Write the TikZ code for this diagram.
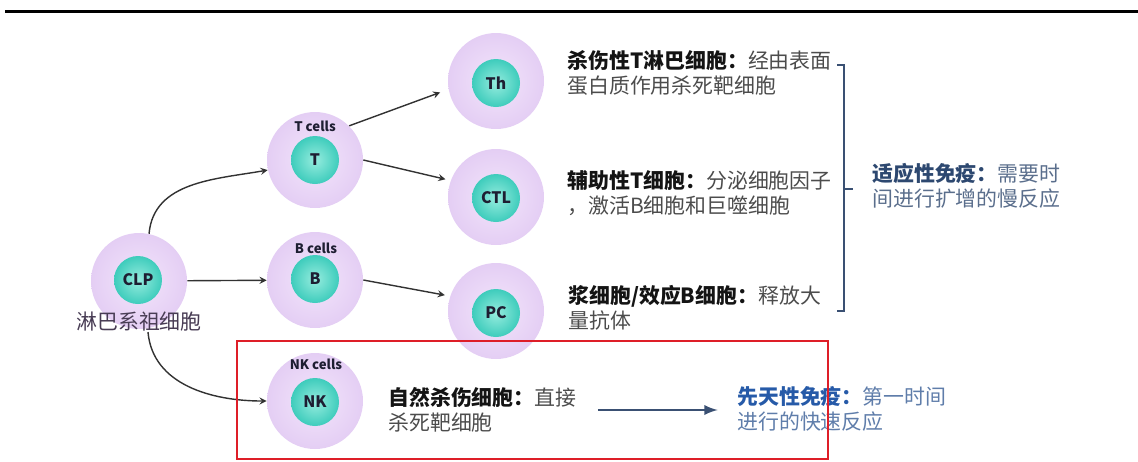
\documentclass[tikz,border=0pt]{standalone}
\usepackage{fontspec}
\setmainfont{Noto Sans CJK SC}
\usetikzlibrary{positioning}
\definecolor{lavender}{RGB}{228,206,244}
\definecolor{lavlight}{RGB}{243,229,251}
\definecolor{tealcore}{RGB}{62,204,188}
\definecolor{teallight}{RGB}{150,236,222}
\definecolor{corefont}{RGB}{30,30,50}
\definecolor{linkgray}{RGB}{50,50,50}
\definecolor{lblgray}{RGB}{72,60,84}
\definecolor{slateblue}{RGB}{58,80,115}
\definecolor{adaptbold}{RGB}{45,72,112}
\definecolor{adapttext}{RGB}{90,110,140}
\definecolor{innatebold}{RGB}{38,90,168}
\definecolor{innatetext}{RGB}{95,125,170}
\definecolor{boxred}{RGB}{222,30,40}
\tikzset{
    cell/.style = {circle, minimum size = 1.92cm, inner sep = 0pt,
        shading = radial, inner color = lavlight, outer color = lavender},
    core/.style = {circle, minimum size = 0.96cm, inner sep = 0pt,
        shading = radial, inner color = teallight, outer color = tealcore,
        text = corefont, font = \bfseries\fontsize{9}{9}\selectfont},
    tag/.style = {inner sep = 0pt, text = corefont, font = \bfseries\fontsize{7.5}{8}\selectfont},
    desc/.style = {anchor = west, align = left, inner sep = 0pt, text = black!70,
        font = \fontsize{11.9}{14.2}\selectfont},
    link/.style = {-stealth, line width = 0.8pt, draw = linkgray}
}
\begin{document}
\begin{tikzpicture}[x = 0.02cm, y = -0.02cm]
        \useasboundingbox (0,0) rectangle (1138,461);
        \draw[line width = 1.7pt] (5,11) -- (1138,11);
        \node[cell] (clp) at (139,281) {};
        \node[core] (clpc) at (138,280) {CLP};
        \node[inner sep = 0pt, text = lblgray, font = \fontsize{11.9}{14}\selectfont] (clplbl) at (139,322) {淋巴系祖细胞};
        \node[cell] (t) at (315,160) {};
        \node[core] (tc) at (315,160) {T};
        \node[tag] (ttag) at (315,126) {T cells};
        \node[cell] (b) at (315,280) {};
        \node[core] (bc) at (315,279) {B};
        \node[tag] (btag) at (316,248) {B cells};
        \node[cell] (th) at (496,81) {};
        \node[core] (thc) at (496,83) {Th};
        \node[cell] (ctl) at (496,197) {};
        \node[core] (ctlc) at (496,198) {CTL};
        \node[cell] (pc) at (496,311) {};
        \node[core] (pcc) at (496,313) {PC};
        \node[cell] (nk) at (315,401) {};
        \node[core] (nkc) at (315,402) {NK};
        \node[tag] (nktag) at (316,364) {NK cells};
        \draw[link] (clp.78) to[out = 85, in = 190] (t.192);
        \draw[link] (clp) -- (b);
        \draw[link] ([xshift = 0.18cm]clplbl.south) to[out = -85, in = 180] (nk.west);
        \draw[link, shorten > = 5pt] (t.45) -- (th.190);
        \draw[link, shorten > = 3pt] (t.east) -- (ctl.160);
        \draw[link, shorten > = 3pt] (b.east) -- (pc.162);
        \begin{scope}[every node/.append style = {desc}]
            \node (thd) at (567,73) {{\bfseries\color{black!92}杀伤性T淋巴细胞：}经由表面\\蛋白质作用杀死靶细胞};
            \node (ctld) at (567,193) {{\bfseries\color{black!92}辅助性T细胞：}分泌细胞因子\\，激活B细胞和巨噬细胞};
            \node (pcd) at (568,308) {{\bfseries\color{black!92}浆细胞/效应B细胞：}释放大\\量抗体};
            \node (nkd) at (388,410) {{\bfseries\color{black!92}自然杀伤细胞：}直接\\杀死靶细胞};
            \node[text = adapttext] (adapt) at (872,186) {{\bfseries\color{adaptbold}适应性免疫：}需要时\\间进行扩增的慢反应};
            \node[text = innatetext] (innate) at (737,409) {{\bfseries\color{innatebold}先天性免疫：}第一时间\\进行的快速反应};
        \end{scope}
        \draw[slateblue, line width = 1.4pt] (837,65) -- (844,65) -- (844,311) -- (837,311);
        \draw[slateblue, line width = 1.4pt] (844,189) -- (853,189);
        \draw[-latex, slateblue, line width = 1.6pt, shorten < = 12pt, shorten > = 11pt] (nkd.east) -- (nkd.east -| innate.west);
        \draw[boxred, line width = 1.1pt] (237,341) rectangle (828,459);
    \end{tikzpicture}
\end{document}
